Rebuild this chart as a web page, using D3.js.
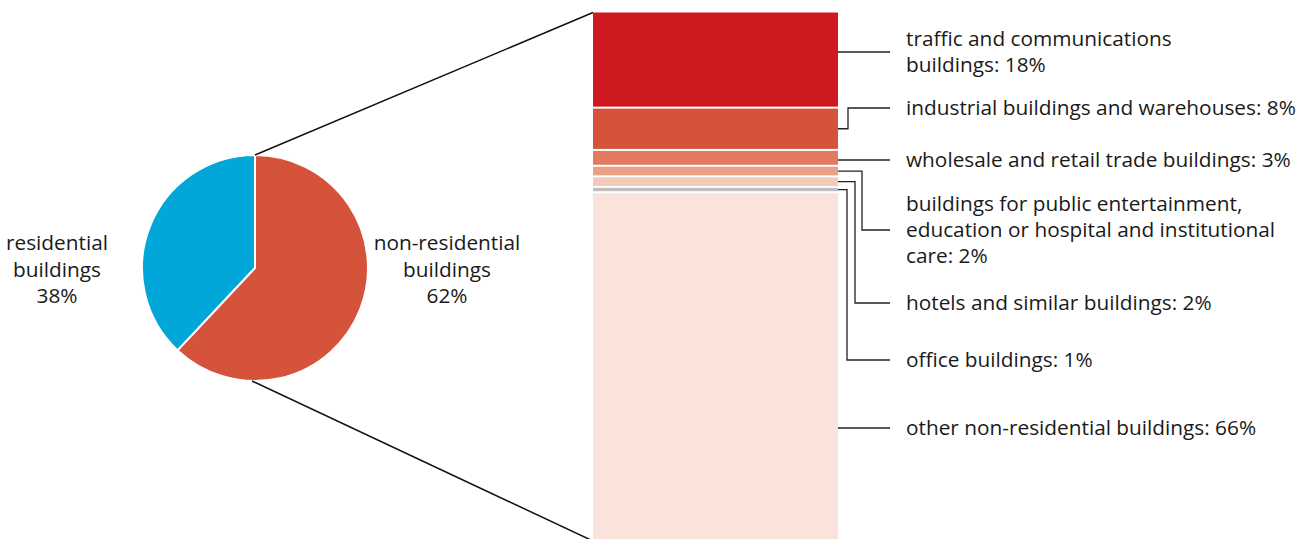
<!DOCTYPE html>
<html>
<head>
<meta charset="utf-8">
<script src="https://cdn.jsdelivr.net/npm/d3@7"></script>
<style>
  html, body { margin: 0; padding: 0; background: #fff; }
  svg text { font-family: "Open Sans", "Noto Sans", sans-serif; font-size: 20.8px; fill: #1a1a1a; }
</style>
</head>
<body>
<svg id="chart" width="1299" height="539"></svg>
<script>
// pie: residential vs non-residential
const pieLabels = [['residential', 'buildings', '38%'], ['non-residential', 'buildings', '62%']];
const pieValues = [38, 62];
const pieColors = ['#00a7d8', '#d5533b'];

// breakdown of non-residential buildings
const barLabels = [
    ['traffic and communications', 'buildings: 18%'],
    ['industrial buildings and warehouses: 8%'],
    ['wholesale and retail trade buildings: 3%'],
    ['buildings for public entertainment,', 'education or hospital and institutional', 'care: 2%'],
    ['hotels and similar buildings: 2%'],
    ['office buildings: 1%'],
    ['other non-residential buildings: 66%']
];
const barValues = [18, 8, 3, 2, 2, 1, 66];
const barColors = ['#cf1920', '#d5533b', '#e17a5f', '#eba187', '#f3c9b9', '#bfbfbf', '#f9e3da'];

// label layout: y of leader end, x of elbow (null = straight)
const labelY = [52, 108, 160, 230, 303, 360, 428];
const elbowX = [null, 848, null, 862, 855, 847, null];

const svg = d3.select('#chart');

// ---- pie ----
const cx = 255, cy = 268, r = 113;
const pie = d3.pie().sort(null).value(d => d)
    .startAngle(-2 * Math.PI * pieValues[0] / 100)
    .endAngle(2 * Math.PI - 2 * Math.PI * pieValues[0] / 100);
const arc = d3.arc().innerRadius(0).outerRadius(r);

const pg = svg.append('g').attr('transform', `translate(${cx},${cy})`);
pg.selectAll('path')
    .data(pie(pieValues))
    .enter()
    .append('path')
    .attr('d', arc)
    .attr('fill', (d, i) => pieColors[i])
    .attr('stroke', '#fff')
    .attr('stroke-width', 2);

const pieLabelX = [57, 447];
pieLabels.forEach((lines, i) => {
    const t = svg.append('text')
        .attr('text-anchor', 'middle')
        .attr('x', pieLabelX[i])
        .attr('y', 250);
    lines.forEach((l, j) => {
        t.append('tspan').attr('x', pieLabelX[i]).attr('dy', j === 0 ? 0 : 26.5).text(l);
    });
});

// ---- stacked bar ----
const barX0 = 593, barX1 = 838;
const y = d3.scaleLinear().domain([0, d3.sum(barValues)]).range([12.5, 541]);
const stack = [];
let acc = 0;
barValues.forEach((v, i) => { stack.push({ i, y0: acc, y1: acc + v }); acc += v; });

// connector lines from pie to bar
svg.append('line')
    .attr('x1', cx).attr('y1', cy - r)
    .attr('x2', barX0).attr('y2', y(0))
    .attr('stroke', '#111').attr('stroke-width', 1.5);
svg.append('line')
    .attr('x1', cx - 3).attr('y1', cy + r)
    .attr('x2', barX0).attr('y2', y(100))
    .attr('stroke', '#111').attr('stroke-width', 1.5);

svg.selectAll('.seg')
    .data(stack)
    .enter()
    .append('rect')
    .attr('class', 'seg')
    .attr('x', barX0)
    .attr('width', barX1 - barX0)
    .attr('y', d => y(d.y0) + (d.i === 0 ? 0 : 1))
    .attr('height', d => y(d.y1) - y(d.y0) - (d.i === 0 ? 1 : 2))
    .attr('fill', d => barColors[d.i]);

// leader lines
const labelX0 = 890;
stack.forEach(d => {
    const mid = (y(d.y0) + y(d.y1)) / 2;
    const ly = labelY[d.i];
    let pts;
    if (elbowX[d.i] === null) {
        pts = [[barX1, ly], [labelX0, ly]];
    } else {
        pts = [[barX1, mid], [elbowX[d.i], mid], [elbowX[d.i], ly], [labelX0, ly]];
    }
    svg.append('path')
        .attr('d', d3.line()(pts))
        .attr('fill', 'none')
        .attr('stroke', '#222')
        .attr('stroke-width', 1.3);
});

// labels
barLabels.forEach((lines, i) => {
    const n = lines.length;
    const lh = 26;
    const firstBase = labelY[i] + 7 - (n - 1) * lh / 2;
    const t = svg.append('text').attr('x', 906).attr('y', firstBase);
    lines.forEach((l, j) => {
        t.append('tspan').attr('x', 906).attr('dy', j === 0 ? 0 : lh).text(l);
    });
});
</script>
</body>
</html>
